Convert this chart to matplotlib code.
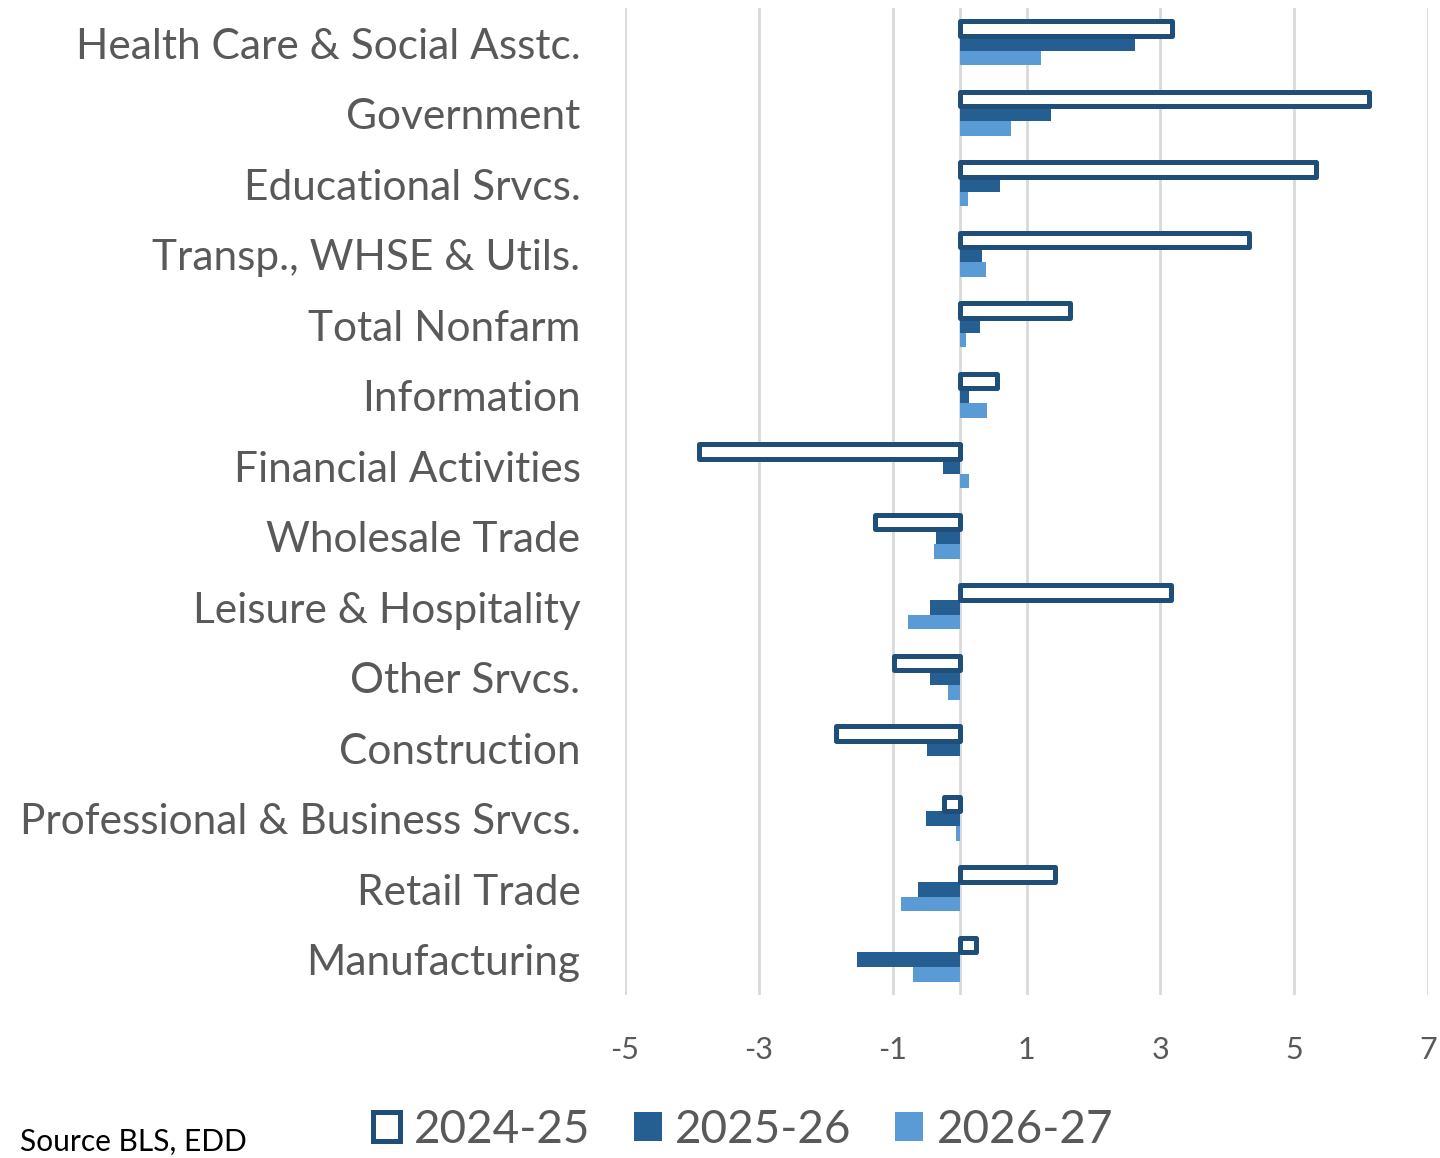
import numpy as np
import matplotlib.pyplot as plt
from matplotlib.patches import Patch

# --- DATA ---
categories = ['Health Care & Social Asstc.', 'Government', 'Educational Srvcs.',
              'Transp., WHSE & Utils.', 'Total Nonfarm', 'Information',
              'Financial Activities', 'Wholesale Trade', 'Leisure & Hospitality',
              'Other Srvcs.', 'Construction', 'Professional & Business Srvcs.',
              'Retail Trade', 'Manufacturing']
series_names = ['2024-25', '2025-26', '2026-27']
vals_2024_25 = [3.18, 6.12, 5.32, 4.32, 1.65, 0.56, -3.90, -1.27, 3.16, -0.98, -1.84, -0.23, 1.42, 0.25]
vals_2025_26 = [2.62, 1.37, 0.60, 0.33, 0.31, 0.14, -0.25, -0.35, -0.44, -0.44, -0.48, -0.50, -0.62, -1.53]
vals_2026_27 = [1.21, 0.77, 0.12, 0.40, 0.10, 0.41, 0.14, -0.38, -0.77, -0.17, 0.00, -0.06, -0.88, -0.69]
xticks = [-5, -3, -1, 1, 3, 5, 7]

NAVY = '#1F4E79'
DARK = '#255E91'
LIGHT = '#5B9BD5'
GREY_TXT = '#595959'
FONT = 'Lato'

fig = plt.figure(figsize=(14.4, 11.58), dpi=100)
ax = fig.add_axes([625 / 1440, 1 - 995 / 1158, (1428 - 625) / 1440, (995 - 8) / 1158])

y = np.arange(len(categories))
h = 0.207

# filled bars first, outlined bar on top
ax.barh(y, vals_2025_26, height=h, color=DARK, zorder=2)
ax.barh(y + h, vals_2026_27, height=h, color=LIGHT, zorder=2)
ax.barh(y - h, vals_2024_25, height=h, facecolor='white', edgecolor=NAVY,
        linewidth=3.6, joinstyle='round', zorder=3)

ax.set_xlim(-5, 7)
ax.set_ylim(len(categories) - 0.5, -0.5)
ax.set_xticks(xticks)
ax.set_xticklabels([str(t) for t in xticks], fontsize=22, color=GREY_TXT, family=FONT)
ax.set_yticks(y)
ax.set_yticklabels(categories, fontsize=30.5, color=GREY_TXT, family=FONT)
ax.tick_params(axis='both', length=0)
ax.tick_params(axis='x', pad=29.5)
ax.tick_params(axis='y', pad=32)

ax.grid(axis='x', color='#D9D9D9', linewidth=2)
ax.axvline(0, color='#D9D9D9', linewidth=2, zorder=1)
ax.set_axisbelow(True)
for s in ax.spines.values():
    s.set_visible(False)

handles = [Patch(facecolor='white', edgecolor=NAVY, linewidth=3.6),
           Patch(facecolor=DARK),
           Patch(facecolor=LIGHT)]
fig.legend(handles, series_names, loc='center', bbox_to_anchor=(743 / 1440, 1 - 1130 / 1158),
           ncol=3, frameon=False, handlelength=0.6, handleheight=0.6,
           handletextpad=0.3, columnspacing=0.95,
           prop={'family': FONT, 'size': 33}, labelcolor=GREY_TXT)

fig.text(20 / 1440, 1 - 1142 / 1158, 'Source BLS, EDD', fontsize=21.5, family=FONT,
         va='center', ha='left', color='black')

fig.savefig('out.png', dpi=100)
